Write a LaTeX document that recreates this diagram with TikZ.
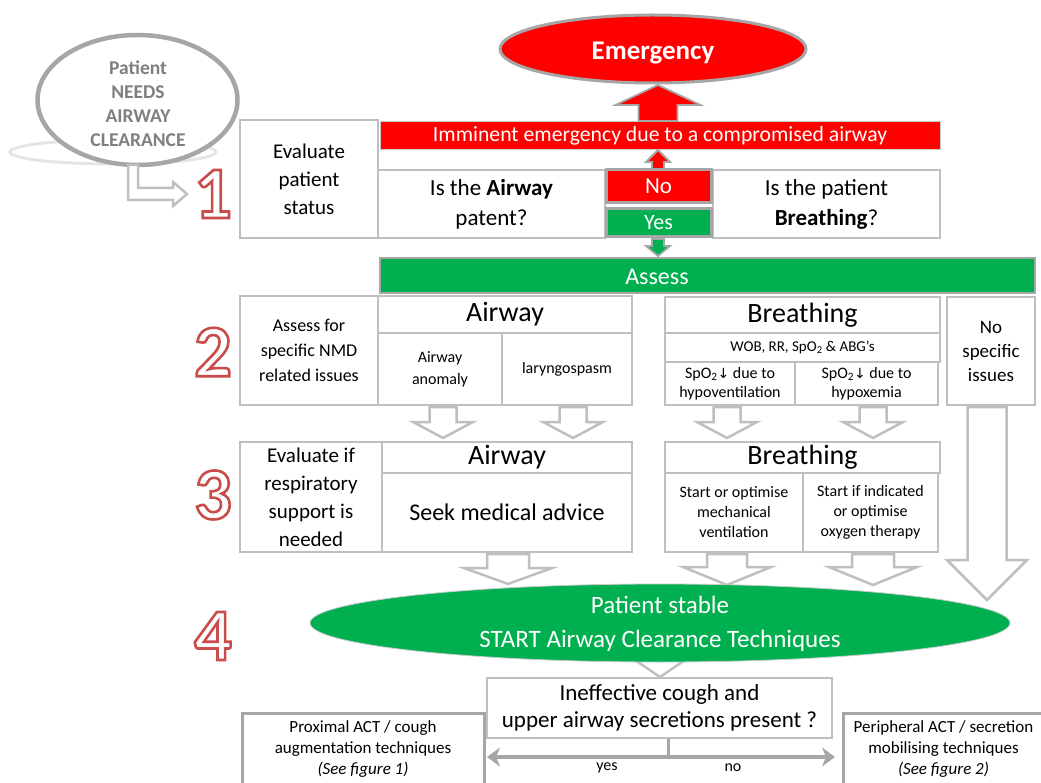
\documentclass[tikz,border=0pt]{standalone}
\usepackage{fontspec}
\setmainfont{Carlito}
\newfontfamily\dv{DejaVu Sans}
\usetikzlibrary{arrows.meta,shapes.geometric}
\definecolor{rd}{HTML}{FF0000}
\definecolor{gn}{HTML}{00B050}
\definecolor{bxc}{HTML}{BFBFBF}
\definecolor{arc}{HTML}{BFBFBF}
\definecolor{grc}{HTML}{A6A6A6}
\definecolor{pg}{HTML}{7F7F7F}
\definecolor{dr}{HTML}{C0504D}
\newcommand{\fs}[2]{\fontsize{#1}{#2}\selectfont}
% x, ytop, ybot(tip), shaft half, head half, head length, style
\newcommand{\barrow}[7]{\draw[#7] ({#1-#4},#2) -- ({#1+#4},#2) -- ({#1+#4},{#3-#6}) -- ({#1+#5},{#3-#6}) -- (#1,#3) -- ({#1-#5},{#3-#6}) -- ({#1-#4},{#3-#6}) -- cycle;}
% [opts]{x1}{y1}{x2}{y2}{name}{text}
\newcommand{\rbox}[7][]{\node[bx,minimum width={#4-#2},minimum height={#5-#3},#1] (#6) at ({(#2+#4)/2},{(#3+#5)/2}) {#7};}
\newcommand{\stepnum}[3]{%
  \node[digit,text=white] (n#3) at (#1,#2) {\special{pdf:literal direct 2 Tr 2.6 w 0.78 0.30 0.29 RG}#3\special{pdf:literal direct 0 Tr}};}
\newcommand{\spo}{SpO\textsubscript{2}{\dv\fs{14}{16}↓}}
\begin{document}
\begin{tikzpicture}[x=1pt,y=-1pt,
  bx/.style={draw=bxc,line width=1.2pt,fill=white,align=center,inner sep=1pt,text=black},
  hol/.style={draw=arc,fill=white,line width=2.5pt,line join=miter},
  rdar/.style={fill=rd,draw=grc,line width=1.8pt,line join=miter},
  gnar/.style={fill=gn,draw=grc,line width=1.8pt,line join=miter},
  digit/.style={font=\fs{74}{74}\bfseries,inner sep=0pt},
  thick box/.style={draw=grc,line width=3pt,fill=white,align=center,inner sep=1pt}]
\useasboundingbox (0,0) rectangle (1041,783);

% ---- patient ellipse
\draw[draw=black!10,line width=3pt] (113,152) ellipse [x radius=103,y radius=12];
\node[ellipse,draw=grc,line width=4.5pt,fill=white,minimum width=200,minimum height=130,inner sep=0pt] (pat) at (137.5,100) {};
\node[align=center,text=pg,font=\fs{19.5}{24}\bfseries,inner sep=0pt] (patt) at (138,104)
  {Patient\\NEEDS\\AIRWAY\\CLEARANCE};
\draw[hol] (128,165) -- (138,165) -- (138,188) -- (173,188) -- (173,182) -- (187,194)
  -- (173,206) -- (173,200) -- (128,200) -- cycle;

% ---- emergency
\node[ellipse,draw=grc,line width=3pt,fill=rd,minimum width=306,minimum height=68] (emg) at (653,49) {};
\node[text=white,font=\fs{27}{30}\bfseries] (emgt) at (653,53) {Emergency};

% ---- step numbers
\stepnum{213}{194}{1}
\stepnum{213}{352}{2}
\stepnum{213}{495}{3}
\stepnum{213}{636}{4}

% ---- step 1
\rbox[font=\fs{21}{28}]{240}{120}{378}{238}{eval}{Evaluate\\patient\\status}
\rbox[fill=rd,draw=grc!60,line width=1pt,text=white,font=\fs{21.7}{24}]{380}{122}{940}{150}{imm}{Imminent emergency due to a compromised airway}
\rbox[font=\fs{23}{30}]{378}{170}{605}{238}{qair}{Is the \textbf{Airway}\\patent?}
\rbox[font=\fs{23}{30}]{713}{170}{940}{238}{qbr}{Is the patient\\\textbf{Breathing}?}
\rbox[thick box,fill=rd,text=white,font=\fs{23}{26}]{606}{170}{711}{203}{no}{No}
\rbox[thick box,fill=gn,text=white,font=\fs{22}{24}]{606}{209}{711}{237}{yes}{Yes}
\barrow{658}{121}{85}{19.5}{42.5}{-20}{rdar}
\barrow{658}{169}{150}{6}{12}{-12}{rdar}
\barrow{658}{239}{256}{6}{12}{10}{gnar}

% ---- assess
\rbox[fill=gn,draw=grc,line width=1.5pt]{380}{258}{1035}{293}{assess}{}
\node[text=white,font=\fs{24}{26}] (assesst) at (657,277) {Assess};

% ---- step 2
\rbox[font=\fs{18}{25}]{240}{296}{378}{405}{nmd}{Assess for\\specific NMD\\related issues}
\rbox[font=\fs{28}{30}]{378}{296}{632}{333}{air2}{Airway}
\rbox[font=\fs{16}{22}]{378}{333}{502}{405}{anom}{Airway\\anomaly}
\rbox[font=\fs{16}{22}]{502}{333}{632}{405}{lary}{laryngospasm}
\rbox[font=\fs{28}{30}]{665}{297}{940}{333}{br2}{Breathing}
\rbox[font=\fs{15}{18}]{665}{333}{940}{362}{wob}{WOB, RR, SpO\textsubscript{2} \& ABG’s}
\rbox[font=\fs{16}{19}]{665}{362}{795}{405}{hypov}{\spo{} due to\\hypoventilation}
\rbox[font=\fs{16}{19}]{795}{362}{938}{405}{hypox}{\spo{} due to\\hypoxemia}
\rbox[font=\fs{19}{24}]{947}{297}{1035}{405}{nospec}{No\\specific\\issues}

% ---- arrows 2 -> 3
\barrow{443}{407}{438}{13.5}{30}{16}{hol}
\barrow{573}{407}{438}{13.5}{30}{16}{hol}
\barrow{727}{407}{438}{13.5}{30}{16}{hol}
\barrow{873}{407}{438}{13.5}{30}{16}{hol}
\barrow{987}{407}{600}{19.5}{40}{40}{hol}

% ---- step 3
\rbox[font=\fs{21}{28}]{240}{442}{382}{552}{resp}{Evaluate if\\respiratory\\support is\\needed}
\rbox[font=\fs{28}{30}]{382}{442}{632}{473}{air3}{Airway}
\rbox[font=\fs{24}{28}]{382}{473}{632}{552}{seek}{Seek medical advice}
\rbox[font=\fs{28}{30}]{665}{442}{940}{473}{br3}{Breathing}
\rbox[font=\fs{16}{20}]{665}{473}{803}{552}{mech}{Start or optimise\\mechanical\\ventilation}
\rbox[font=\fs{16}{20}]{803}{473}{938}{552}{oxy}{Start if indicated\\or optimise\\oxygen therapy}

% ---- arrows 3 -> 4
\barrow{508}{554}{584}{21}{44}{16}{hol}
\barrow{727}{554}{585}{20}{44}{18}{hol}
\barrow{873}{554}{585}{21}{44}{18}{hol}
\barrow{660}{650}{677}{16}{28}{19}{hol}

% ---- step 4
\node[ellipse,draw=grc!60,line width=0.8pt,fill=gn,minimum width=700,minimum height=78,inner sep=0pt] (stable) at (660,623) {};
\node[align=center,text=white,font=\fs{25}{34},inner sep=0pt] (stablet) at (660,624)
  {Patient stable\\START Airway Clearance Techniques};
\rbox[font=\fs{23}{27}]{487}{678}{832}{738}{q}{Ineffective cough and\\upper airway secretions present ?}
\rbox[thick box,font=\fs{17}{21}]{242}{713}{484}{786}{prox}{Proximal ACT / cough\\augmentation techniques\\\textit{(See figure 1)}}
\rbox[thick box,font=\fs{17}{21}]{843}{713}{1044}{786}{peri}{Peripheral ACT / secretion\\mobilising techniques\\\textit{(See figure 2)}}
\coordinate (j) at (668,757);
\coordinate (lt) at (487,757);
\coordinate (rt) at (835,757);
\draw[grc,line width=3pt] (j |- q.south) -- (j);
\draw[grc,line width=3.5pt,{Stealth[length=13pt,width=19pt,inset=4pt]}-{Stealth[length=13pt,width=19pt,inset=4pt]}] (lt) -- (rt);
\node[font=\fs{16}{18}] (yes) at (607,768) {yes};
\node[font=\fs{16}{18}] (nol) at (733,768) {no};
\end{tikzpicture}
\end{document}
